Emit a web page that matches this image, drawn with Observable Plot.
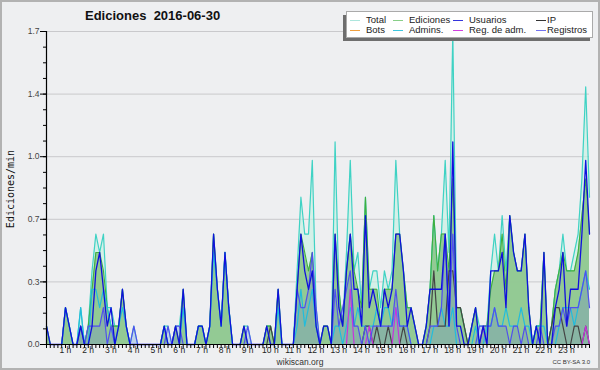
<!DOCTYPE html>
<html><head><meta charset="utf-8">
<script src="https://cdn.jsdelivr.net/npm/d3@7"></script>
<script src="https://cdn.jsdelivr.net/npm/@observablehq/plot@0.6"></script>
<style>
body{margin:0;background:#eeeff1;}
#wrap{position:relative;width:600px;height:370px;overflow:hidden;font-family:"Liberation Sans",Arial,sans-serif;background:#eeeff1;}
#chart{position:absolute;left:0;top:0;}
.frame{position:absolute;left:0;top:0;width:596px;height:366px;border:2px solid #b2b2b2;pointer-events:none;}
#title{position:absolute;left:85px;top:8px;font-weight:bold;font-size:13px;white-space:pre;color:#111;}
#ylab{position:absolute;left:10px;top:189px;transform:translate(-50%,-50%) rotate(-90deg);font-family:"DejaVu Sans Mono",monospace;font-size:10px;white-space:nowrap;color:#111;}
#site{position:absolute;left:300px;top:357px;transform:translateX(-50%);font-size:8.5px;line-height:10px;color:#333;}
#cc{position:absolute;right:10px;top:358px;font-size:6px;line-height:8px;color:#333;}
#legshadow{position:absolute;left:343px;top:15px;width:247px;height:26px;background:#6e6e6e;}
#legend{position:absolute;left:346px;top:11px;width:245px;height:25px;background:#fff;border:1px solid #aaa;}
.sw{position:absolute;height:1.3px;width:10px;}
.lt{position:absolute;font-size:9.5px;color:#222;white-space:nowrap;line-height:10px;}
</style></head><body>
<div id="wrap">
<div id="chart"></div>
<div id="title">Ediciones  2016-06-30</div>
<div id="ylab">Ediciones/min</div>
<div id="site">wikiscan.org</div>
<div id="cc">CC BY-SA 3.0</div>
<div id="legshadow"></div>
<div id="legend"></div>
<div class="frame"></div>
</div>
<script>
// edits per minute, 10-minute bins (144 bins, 00:00 .. 23:50)
const total = [
.1,0,0,0,0,.2,.1,0,0,.2, 0,.1,.4,.6,.5,.6,.2,.2,.1,.1, .3,.1,0,.1,0,0,0,0,0,0,
0,.1,.1,0,.1,.1,.3,0,0,0, .1,.1,0,.1,.6,.3,.1,.5,.2,0, 0,0,.1,.1,0,0,0,0,.1,.1,
0,.3,0,0,0,0,.4,.8,.6,.6, 1.0,.2,0,.1,.1,0,1.1,.3,.1,.5, 1.0,.4,.5,.2,.8,.3,.4,.4,.2,.4,
.3,.4,1.0,.6,.4,.2,.2,.1,0,0, .1,.3,.7,.4,.6,1.0,.5,1.7,.2,.2, .1,0,.1,.2,.1,.1,.1,.4,.6,.4,
.7,.4,.7,.5,.4,.4,.6,.2,0,.1, .1,.5,0,.1,.3,.4,.6,.4,.4,.5, .6,.9,1.4,.8];
const ediciones = [
.1,0,0,0,0,.2,.1,0,0,.1, 0,.1,.3,.5,.5,.4,.2,.1,.1,.1, .3,.1,0,0,0,0,0,0,0,0,
0,.1,0,0,.1,0,.3,0,0,0, .1,.1,0,.1,.6,.3,.1,.5,.2,0, 0,0,.1,0,0,0,0,0,.1,.1,
0,.3,0,0,0,0,.3,.6,.5,.4, .5,.1,0,.1,.1,0,.6,.3,.1,.4, .6,.4,.3,.2,.8,.3,.3,.3,.1,.3,
.3,.3,.6,.6,.4,.2,.2,.1,0,0, .1,.3,.7,.4,.6,.6,.4,.9,.2,.2, .1,0,.1,.2,0,.1,.1,.3,.4,.4,
.6,.3,.7,.5,.4,.4,.6,.2,0,.1, .1,.5,0,.1,.3,.4,.5,.4,.4,.4, .5,.7,.9,.6];
const usuarios = [
.1,0,0,0,0,.2,.1,0,0,.1, 0,0,.1,.4,.5,.3,.1,.2,0,.1, .3,.1,0,0,0,0,0,0,0,0,
0,.1,0,0,.1,0,.3,0,0,0, .1,.1,0,.1,.6,.3,.1,.5,.2,0, 0,0,.1,0,0,0,0,0,.1,0,
0,.3,0,0,0,0,.3,.6,.4,.3, .4,.1,0,.1,.1,0,.6,.2,.1,.4, .6,.3,.3,.1,.7,.2,.3,.2,.1,.3,
.2,.3,.6,.6,.4,.1,.2,.1,0,0, .1,.3,.3,.3,.3,.6,.1,1.1,.1,.1, 0,0,.1,.2,0,.1,0,.4,.4,.4,
.5,.2,.7,.5,.4,.4,.6,.2,0,.1, 0,.5,0,0,.2,.3,.5,.1,.3,.3, .3,.6,1.0,.6];
const ip = [
0,0,0,0,0,0,0,0,0,0, 0,0,0,0,0,0,0,0,0,0, 0,0,0,0,0,0,0,0,0,0,
0,0,0,0,0,0,0,0,0,0, 0,0,0,0,0,0,0,0,0,0, 0,0,0,0,0,0,0,0,0,.1,
0,0,0,0,0,0,0,0,0,0, 0,0,0,0,0,0,0,0,0,0, 0,0,0,0,.1,.1,0,.1,0,0,
.1,0,0,0,.1,0,0,0,0,0, 0,.1,.4,.1,.1,.1,.4,.4,.2,.2, .1,0,0,0,0,0,0,0,0,0,
0,0,0,0,0,0,0,0,0,0, 0,0,0,.1,.2,.2,.1,0,0,.1, .1,0,.1,0];
const bots = new Array(144).fill(0);
const admins = [
0,0,0,0,0,.2,.1,0,0,.2, 0,0,.3,.3,.2,.3,.2,.1,0,.1, .2,.1,0,0,0,0,0,0,0,0,
0,.1,0,0,0,0,.2,0,0,0, .1,.1,0,.1,.5,.3,.1,.5,.2,0, 0,0,0,0,0,0,0,0,0,0,
0,.2,0,0,0,0,.1,.3,.1,.2, .3,.1,0,0,0,0,.1,.1,0,.1, .2,.1,.2,.1,.1,.1,.1,.2,.1,.2,
.2,.1,.2,.1,.1,.1,0,0,0,0, 0,0,.1,.1,.2,.1,.1,.2,0,0, 0,0,0,.1,0,0,.1,.1,.2,.1,
.1,.2,.1,.1,.1,.2,.1,.1,0,.1, .1,.1,0,0,0,.1,.2,.2,.2,.1, .2,.3,.4,.3];
const regAdm = [
0,0,0,0,0,0,0,0,0,0, 0,0,0,0,0,0,0,0,0,0, 0,0,0,0,0,0,0,0,0,0,
0,0,0,0,0,0,0,0,0,0, 0,0,0,0,0,0,0,0,0,0, 0,0,0,0,0,0,0,0,0,0,
0,0,0,0,0,0,0,0,0,0, 0,0,0,0,0,0,0,0,0,0, .3,0,0,0,0,.1,0,0,0,0,
0,0,.2,0,0,0,0,0,0,0, 0,0,0,0,0,0,0,0,0,0, 0,0,0,0,0,.1,0,0,0,0,
0,0,0,0,0,0,0,0,0,0, 0,0,0,0,0,0,0,0,0,0, 0,0,.1,0];
const registros = [
0,0,0,0,0,0,0,0,0,.1, 0,.1,.1,.1,.1,.2,0,.1,0,0, 0,0,0,.1,0,0,0,0,0,0,
0,0,.1,0,.1,.1,0,0,0,0, 0,0,0,0,0,0,0,0,0,0, 0,0,0,.1,0,0,0,0,0,0,
0,0,0,0,0,0,.3,.2,.2,.3, .5,.2,0,0,0,0,.3,.1,.2,.3, .4,.1,.1,0,.1,0,.1,.1,.1,.1,
.1,.1,.3,.1,.1,.1,0,0,0,0, 0,.1,.1,.1,.2,.6,.1,.6,.1,0, 0,0,0,0,.1,.1,.1,.1,.2,.1,
.1,.1,0,.1,.1,0,.1,0,0,0, .1,0,0,0,.1,.1,.2,.1,.2,.2, .2,.3,.4,.2];
const hours = [1,2,3,4,5,6,7,8,9,10,11,12,13,14,15,16,17,18,19,20,21,22,23];
const yTicks = [0,0.34,0.68,1.02,1.36,1.7];
const legendItems = [
 {name:"Total", color:"#ade6dd"},{name:"Ediciones", color:"#88cf88"},{name:"Usuarios", color:"#3434dc"},{name:"IP", color:"#333333"},
 {name:"Bots", color:"#f0a040"},{name:"Admins.", color:"#3ec6de"},{name:"Reg. de adm.", color:"#d040e0"},{name:"Registros", color:"#7272ee"}];

const rows = total.map((t,i)=>({i, total:t, ediciones:ediciones[i], usuarios:usuarios[i], ip:ip[i], bots:bots[i], admins:admins[i], regAdm:regAdm[i], registros:registros[i]}));
const binTicks = d3.range(0,144);
const minorY = d3.range(0,1.7001,0.085);

const chart = Plot.plot({
  width:600, height:370, marginLeft:46, marginRight:11, marginTop:31, marginBottom:26,
  style:{background:"transparent", fontFamily:"'Liberation Sans', Arial, sans-serif", fontSize:"8.5px", color:"#333"},
  x:{domain:[0,143], axis:null},
  y:{domain:[0,1.7], axis:null},
  marks:[
    Plot.ruleY(yTicks.slice(1), {stroke:"#c9c9cc", strokeWidth:1}),
    Plot.areaY(rows, {x:"i", y:"total", fill:"#c8f0e4", fillOpacity:0.65}),
    Plot.areaY(rows, {x:"i", y:"ediciones", fill:"#8fc78f", fillOpacity:0.95}),
    Plot.areaY(rows, {x:"i", y:"registros", fill:"#5a5af0", fillOpacity:0.18}),
    Plot.lineY(rows, {x:"i", y:"total", stroke:"#3fd2c4", strokeWidth:1.2}),
    Plot.lineY(rows, {x:"i", y:"ediciones", stroke:"#3faf3f", strokeWidth:1.1}),
    Plot.lineY(rows, {x:"i", y:"bots", stroke:"#f0a040", strokeWidth:1.1}),
    Plot.lineY(rows, {x:"i", y:"admins", stroke:"#22bcdc", strokeWidth:1.2}),
    Plot.lineY(rows, {x:"i", y:"ip", stroke:"#444444", strokeWidth:1.2}),
    Plot.lineY(rows, {x:"i", y:"regAdm", stroke:"#c833dc", strokeWidth:1.2}),
    Plot.lineY(rows, {x:"i", y:"registros", stroke:"#5050ee", strokeWidth:1.2}),
    Plot.lineY(rows, {x:"i", y:"usuarios", stroke:"#1010dd", strokeWidth:1.3}),
    Plot.axisY(minorY, {tickSize:3, tickFormat:()=>"", label:null, stroke:"#000"}),
    Plot.axisY(yTicks, {tickSize:6, tickPadding:1, tickFormat:d3.format(".1f"), label:null, stroke:"#000", fill:"#444"}),
    Plot.axisX(binTicks, {tickSize:4, tickFormat:()=>"", label:null, stroke:"#000"}),
    Plot.axisX(hours.map(h=>h*6), {tickSize:0, tickPadding:2, dx:-4, tickFormat:d=>`${d/6} h`, label:null, fill:"#222"}),
    Plot.ruleY([0], {stroke:"#000", strokeWidth:1.2}),
    Plot.ruleX([0], {stroke:"#000", strokeWidth:1.2})
  ]
});
document.getElementById("chart").appendChild(chart);

const leg = document.getElementById("legend");
const colX = [3, 46, 106, 189];
const textX = [19, 62, 122, 200];
const rowY = [7.5, 17.5];
legendItems.forEach((d,k)=>{
  const c = k%4, r = Math.floor(k/4);
  const s = document.createElement("div"); s.className="sw";
  s.style.left = colX[c]+"px"; s.style.top = rowY[r]+"px"; s.style.background = d.color;
  leg.appendChild(s);
  const t = document.createElement("div"); t.className="lt";
  t.style.left = textX[c]+"px"; t.style.top = (rowY[r]-5)+"px"; t.textContent = d.name;
  leg.appendChild(t);
});
</script>
</body></html>
